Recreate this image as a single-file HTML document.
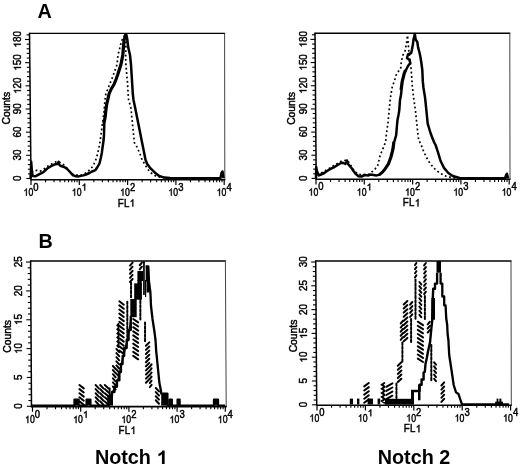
<!DOCTYPE html>
<html><head><meta charset="utf-8"><style>html,body{margin:0;padding:0;background:#fff;}body{width:520px;height:467px;overflow:hidden;position:relative;font-family:"Liberation Sans",sans-serif;}</style></head><body>
<svg width="520" height="467" viewBox="0 0 520 467" style="position:absolute;left:0;top:0;will-change:transform" font-family='"Liberation Sans", sans-serif' fill="#000">
<rect width="520" height="467" fill="#fff"/>
<line x1="29.5" y1="32.8" x2="31" y2="180.3" stroke="#000" stroke-width="1.5" />
<line x1="29" y1="33.4" x2="225.1" y2="33.4" stroke="#000" stroke-width="1.4" />
<line x1="224.6" y1="33.4" x2="224.8" y2="179.7" stroke="#444" stroke-width="1.0" />
<line x1="30.5" y1="179.7" x2="225.3" y2="179.7" stroke="#000" stroke-width="1.6" />
<line x1="26.39" y1="178.5" x2="30.99" y2="178.5" stroke="#000" stroke-width="1.1" />
<line x1="27.94" y1="173.87" x2="30.94" y2="173.87" stroke="#000" stroke-width="1.1" />
<line x1="27.89" y1="169.23" x2="30.89" y2="169.23" stroke="#000" stroke-width="1.1" />
<line x1="27.85" y1="164.6" x2="30.85" y2="164.6" stroke="#000" stroke-width="1.1" />
<line x1="27.8" y1="159.97" x2="30.8" y2="159.97" stroke="#000" stroke-width="1.1" />
<line x1="26.15" y1="155.33" x2="30.75" y2="155.33" stroke="#000" stroke-width="1.1" />
<line x1="27.7" y1="150.7" x2="30.7" y2="150.7" stroke="#000" stroke-width="1.1" />
<line x1="27.66" y1="146.07" x2="30.66" y2="146.07" stroke="#000" stroke-width="1.1" />
<line x1="27.61" y1="141.43" x2="30.61" y2="141.43" stroke="#000" stroke-width="1.1" />
<line x1="27.56" y1="136.8" x2="30.56" y2="136.8" stroke="#000" stroke-width="1.1" />
<line x1="25.91" y1="132.17" x2="30.51" y2="132.17" stroke="#000" stroke-width="1.1" />
<line x1="27.47" y1="127.53" x2="30.47" y2="127.53" stroke="#000" stroke-width="1.1" />
<line x1="27.42" y1="122.9" x2="30.42" y2="122.9" stroke="#000" stroke-width="1.1" />
<line x1="27.37" y1="118.27" x2="30.37" y2="118.27" stroke="#000" stroke-width="1.1" />
<line x1="27.32" y1="113.64" x2="30.32" y2="113.64" stroke="#000" stroke-width="1.1" />
<line x1="25.68" y1="109" x2="30.28" y2="109" stroke="#000" stroke-width="1.1" />
<line x1="27.23" y1="104.37" x2="30.23" y2="104.37" stroke="#000" stroke-width="1.1" />
<line x1="27.18" y1="99.74" x2="30.18" y2="99.74" stroke="#000" stroke-width="1.1" />
<line x1="27.13" y1="95.1" x2="30.13" y2="95.1" stroke="#000" stroke-width="1.1" />
<line x1="27.09" y1="90.47" x2="30.09" y2="90.47" stroke="#000" stroke-width="1.1" />
<line x1="25.44" y1="85.84" x2="30.04" y2="85.84" stroke="#000" stroke-width="1.1" />
<line x1="26.99" y1="81.2" x2="29.99" y2="81.2" stroke="#000" stroke-width="1.1" />
<line x1="26.94" y1="76.57" x2="29.94" y2="76.57" stroke="#000" stroke-width="1.1" />
<line x1="26.9" y1="71.94" x2="29.9" y2="71.94" stroke="#000" stroke-width="1.1" />
<line x1="26.85" y1="67.3" x2="29.85" y2="67.3" stroke="#000" stroke-width="1.1" />
<line x1="25.2" y1="62.67" x2="29.8" y2="62.67" stroke="#000" stroke-width="1.1" />
<line x1="26.75" y1="58.04" x2="29.75" y2="58.04" stroke="#000" stroke-width="1.1" />
<line x1="26.71" y1="53.4" x2="29.71" y2="53.4" stroke="#000" stroke-width="1.1" />
<line x1="26.66" y1="48.77" x2="29.66" y2="48.77" stroke="#000" stroke-width="1.1" />
<line x1="26.61" y1="44.14" x2="29.61" y2="44.14" stroke="#000" stroke-width="1.1" />
<line x1="24.96" y1="39.5" x2="29.56" y2="39.5" stroke="#000" stroke-width="1.1" />
<line x1="26.52" y1="34.87" x2="29.52" y2="34.87" stroke="#000" stroke-width="1.1" />
<line x1="31" y1="179.7" x2="31" y2="184.9" stroke="#000" stroke-width="1.2" />
<line x1="45.54" y1="179.7" x2="45.54" y2="182.3" stroke="#000" stroke-width="1.1" />
<line x1="54.04" y1="179.7" x2="54.04" y2="182.3" stroke="#000" stroke-width="1.1" />
<line x1="60.08" y1="179.7" x2="60.08" y2="182.3" stroke="#000" stroke-width="1.1" />
<line x1="64.76" y1="179.7" x2="64.76" y2="182.3" stroke="#000" stroke-width="1.1" />
<line x1="68.58" y1="179.7" x2="68.58" y2="182.3" stroke="#000" stroke-width="1.1" />
<line x1="71.82" y1="179.7" x2="71.82" y2="182.3" stroke="#000" stroke-width="1.1" />
<line x1="74.62" y1="179.7" x2="74.62" y2="182.3" stroke="#000" stroke-width="1.1" />
<line x1="77.09" y1="179.7" x2="77.09" y2="182.3" stroke="#000" stroke-width="1.1" />
<line x1="79.3" y1="179.7" x2="79.3" y2="184.9" stroke="#000" stroke-width="1.2" />
<line x1="93.84" y1="179.7" x2="93.84" y2="182.3" stroke="#000" stroke-width="1.1" />
<line x1="102.34" y1="179.7" x2="102.34" y2="182.3" stroke="#000" stroke-width="1.1" />
<line x1="108.38" y1="179.7" x2="108.38" y2="182.3" stroke="#000" stroke-width="1.1" />
<line x1="113.06" y1="179.7" x2="113.06" y2="182.3" stroke="#000" stroke-width="1.1" />
<line x1="116.88" y1="179.7" x2="116.88" y2="182.3" stroke="#000" stroke-width="1.1" />
<line x1="120.12" y1="179.7" x2="120.12" y2="182.3" stroke="#000" stroke-width="1.1" />
<line x1="122.92" y1="179.7" x2="122.92" y2="182.3" stroke="#000" stroke-width="1.1" />
<line x1="125.39" y1="179.7" x2="125.39" y2="182.3" stroke="#000" stroke-width="1.1" />
<line x1="127.6" y1="179.7" x2="127.6" y2="184.9" stroke="#000" stroke-width="1.2" />
<line x1="142.14" y1="179.7" x2="142.14" y2="182.3" stroke="#000" stroke-width="1.1" />
<line x1="150.64" y1="179.7" x2="150.64" y2="182.3" stroke="#000" stroke-width="1.1" />
<line x1="156.68" y1="179.7" x2="156.68" y2="182.3" stroke="#000" stroke-width="1.1" />
<line x1="161.36" y1="179.7" x2="161.36" y2="182.3" stroke="#000" stroke-width="1.1" />
<line x1="165.18" y1="179.7" x2="165.18" y2="182.3" stroke="#000" stroke-width="1.1" />
<line x1="168.42" y1="179.7" x2="168.42" y2="182.3" stroke="#000" stroke-width="1.1" />
<line x1="171.22" y1="179.7" x2="171.22" y2="182.3" stroke="#000" stroke-width="1.1" />
<line x1="173.69" y1="179.7" x2="173.69" y2="182.3" stroke="#000" stroke-width="1.1" />
<line x1="175.9" y1="179.7" x2="175.9" y2="184.9" stroke="#000" stroke-width="1.2" />
<line x1="190.44" y1="179.7" x2="190.44" y2="182.3" stroke="#000" stroke-width="1.1" />
<line x1="198.94" y1="179.7" x2="198.94" y2="182.3" stroke="#000" stroke-width="1.1" />
<line x1="204.98" y1="179.7" x2="204.98" y2="182.3" stroke="#000" stroke-width="1.1" />
<line x1="209.66" y1="179.7" x2="209.66" y2="182.3" stroke="#000" stroke-width="1.1" />
<line x1="213.48" y1="179.7" x2="213.48" y2="182.3" stroke="#000" stroke-width="1.1" />
<line x1="216.72" y1="179.7" x2="216.72" y2="182.3" stroke="#000" stroke-width="1.1" />
<line x1="219.52" y1="179.7" x2="219.52" y2="182.3" stroke="#000" stroke-width="1.1" />
<line x1="221.99" y1="179.7" x2="221.99" y2="182.3" stroke="#000" stroke-width="1.1" />
<line x1="224.2" y1="179.7" x2="224.2" y2="184.9" stroke="#000" stroke-width="1.2" />
<line x1="315" y1="32.7" x2="316.2" y2="179.9" stroke="#000" stroke-width="1.5" />
<line x1="314.5" y1="33.3" x2="510.3" y2="33.3" stroke="#000" stroke-width="1.4" />
<line x1="509.8" y1="33.3" x2="510" y2="179.3" stroke="#444" stroke-width="1.0" />
<line x1="315.7" y1="179.3" x2="510.5" y2="179.3" stroke="#000" stroke-width="1.6" />
<line x1="311.59" y1="178.4" x2="316.19" y2="178.4" stroke="#000" stroke-width="1.1" />
<line x1="313.15" y1="173.77" x2="316.15" y2="173.77" stroke="#000" stroke-width="1.1" />
<line x1="313.12" y1="169.13" x2="316.12" y2="169.13" stroke="#000" stroke-width="1.1" />
<line x1="313.08" y1="164.5" x2="316.08" y2="164.5" stroke="#000" stroke-width="1.1" />
<line x1="313.04" y1="159.87" x2="316.04" y2="159.87" stroke="#000" stroke-width="1.1" />
<line x1="311.4" y1="155.23" x2="316" y2="155.23" stroke="#000" stroke-width="1.1" />
<line x1="312.96" y1="150.6" x2="315.96" y2="150.6" stroke="#000" stroke-width="1.1" />
<line x1="312.93" y1="145.97" x2="315.93" y2="145.97" stroke="#000" stroke-width="1.1" />
<line x1="312.89" y1="141.33" x2="315.89" y2="141.33" stroke="#000" stroke-width="1.1" />
<line x1="312.85" y1="136.7" x2="315.85" y2="136.7" stroke="#000" stroke-width="1.1" />
<line x1="311.21" y1="132.07" x2="315.81" y2="132.07" stroke="#000" stroke-width="1.1" />
<line x1="312.77" y1="127.43" x2="315.77" y2="127.43" stroke="#000" stroke-width="1.1" />
<line x1="312.74" y1="122.8" x2="315.74" y2="122.8" stroke="#000" stroke-width="1.1" />
<line x1="312.7" y1="118.17" x2="315.7" y2="118.17" stroke="#000" stroke-width="1.1" />
<line x1="312.66" y1="113.54" x2="315.66" y2="113.54" stroke="#000" stroke-width="1.1" />
<line x1="311.02" y1="108.9" x2="315.62" y2="108.9" stroke="#000" stroke-width="1.1" />
<line x1="312.58" y1="104.27" x2="315.58" y2="104.27" stroke="#000" stroke-width="1.1" />
<line x1="312.55" y1="99.64" x2="315.55" y2="99.64" stroke="#000" stroke-width="1.1" />
<line x1="312.51" y1="95" x2="315.51" y2="95" stroke="#000" stroke-width="1.1" />
<line x1="312.47" y1="90.37" x2="315.47" y2="90.37" stroke="#000" stroke-width="1.1" />
<line x1="310.83" y1="85.74" x2="315.43" y2="85.74" stroke="#000" stroke-width="1.1" />
<line x1="312.39" y1="81.1" x2="315.39" y2="81.1" stroke="#000" stroke-width="1.1" />
<line x1="312.35" y1="76.47" x2="315.35" y2="76.47" stroke="#000" stroke-width="1.1" />
<line x1="312.32" y1="71.84" x2="315.32" y2="71.84" stroke="#000" stroke-width="1.1" />
<line x1="312.28" y1="67.2" x2="315.28" y2="67.2" stroke="#000" stroke-width="1.1" />
<line x1="310.64" y1="62.57" x2="315.24" y2="62.57" stroke="#000" stroke-width="1.1" />
<line x1="312.2" y1="57.94" x2="315.2" y2="57.94" stroke="#000" stroke-width="1.1" />
<line x1="312.16" y1="53.3" x2="315.16" y2="53.3" stroke="#000" stroke-width="1.1" />
<line x1="312.13" y1="48.67" x2="315.13" y2="48.67" stroke="#000" stroke-width="1.1" />
<line x1="312.09" y1="44.04" x2="315.09" y2="44.04" stroke="#000" stroke-width="1.1" />
<line x1="310.45" y1="39.4" x2="315.05" y2="39.4" stroke="#000" stroke-width="1.1" />
<line x1="312.01" y1="34.77" x2="315.01" y2="34.77" stroke="#000" stroke-width="1.1" />
<line x1="316" y1="179.3" x2="316" y2="184.5" stroke="#000" stroke-width="1.2" />
<line x1="330.54" y1="179.3" x2="330.54" y2="181.9" stroke="#000" stroke-width="1.1" />
<line x1="339.04" y1="179.3" x2="339.04" y2="181.9" stroke="#000" stroke-width="1.1" />
<line x1="345.08" y1="179.3" x2="345.08" y2="181.9" stroke="#000" stroke-width="1.1" />
<line x1="349.76" y1="179.3" x2="349.76" y2="181.9" stroke="#000" stroke-width="1.1" />
<line x1="353.58" y1="179.3" x2="353.58" y2="181.9" stroke="#000" stroke-width="1.1" />
<line x1="356.82" y1="179.3" x2="356.82" y2="181.9" stroke="#000" stroke-width="1.1" />
<line x1="359.62" y1="179.3" x2="359.62" y2="181.9" stroke="#000" stroke-width="1.1" />
<line x1="362.09" y1="179.3" x2="362.09" y2="181.9" stroke="#000" stroke-width="1.1" />
<line x1="364.3" y1="179.3" x2="364.3" y2="184.5" stroke="#000" stroke-width="1.2" />
<line x1="378.84" y1="179.3" x2="378.84" y2="181.9" stroke="#000" stroke-width="1.1" />
<line x1="387.34" y1="179.3" x2="387.34" y2="181.9" stroke="#000" stroke-width="1.1" />
<line x1="393.38" y1="179.3" x2="393.38" y2="181.9" stroke="#000" stroke-width="1.1" />
<line x1="398.06" y1="179.3" x2="398.06" y2="181.9" stroke="#000" stroke-width="1.1" />
<line x1="401.88" y1="179.3" x2="401.88" y2="181.9" stroke="#000" stroke-width="1.1" />
<line x1="405.12" y1="179.3" x2="405.12" y2="181.9" stroke="#000" stroke-width="1.1" />
<line x1="407.92" y1="179.3" x2="407.92" y2="181.9" stroke="#000" stroke-width="1.1" />
<line x1="410.39" y1="179.3" x2="410.39" y2="181.9" stroke="#000" stroke-width="1.1" />
<line x1="412.6" y1="179.3" x2="412.6" y2="184.5" stroke="#000" stroke-width="1.2" />
<line x1="427.14" y1="179.3" x2="427.14" y2="181.9" stroke="#000" stroke-width="1.1" />
<line x1="435.64" y1="179.3" x2="435.64" y2="181.9" stroke="#000" stroke-width="1.1" />
<line x1="441.68" y1="179.3" x2="441.68" y2="181.9" stroke="#000" stroke-width="1.1" />
<line x1="446.36" y1="179.3" x2="446.36" y2="181.9" stroke="#000" stroke-width="1.1" />
<line x1="450.18" y1="179.3" x2="450.18" y2="181.9" stroke="#000" stroke-width="1.1" />
<line x1="453.42" y1="179.3" x2="453.42" y2="181.9" stroke="#000" stroke-width="1.1" />
<line x1="456.22" y1="179.3" x2="456.22" y2="181.9" stroke="#000" stroke-width="1.1" />
<line x1="458.69" y1="179.3" x2="458.69" y2="181.9" stroke="#000" stroke-width="1.1" />
<line x1="460.9" y1="179.3" x2="460.9" y2="184.5" stroke="#000" stroke-width="1.2" />
<line x1="475.44" y1="179.3" x2="475.44" y2="181.9" stroke="#000" stroke-width="1.1" />
<line x1="483.94" y1="179.3" x2="483.94" y2="181.9" stroke="#000" stroke-width="1.1" />
<line x1="489.98" y1="179.3" x2="489.98" y2="181.9" stroke="#000" stroke-width="1.1" />
<line x1="494.66" y1="179.3" x2="494.66" y2="181.9" stroke="#000" stroke-width="1.1" />
<line x1="498.48" y1="179.3" x2="498.48" y2="181.9" stroke="#000" stroke-width="1.1" />
<line x1="501.72" y1="179.3" x2="501.72" y2="181.9" stroke="#000" stroke-width="1.1" />
<line x1="504.52" y1="179.3" x2="504.52" y2="181.9" stroke="#000" stroke-width="1.1" />
<line x1="506.99" y1="179.3" x2="506.99" y2="181.9" stroke="#000" stroke-width="1.1" />
<line x1="509.2" y1="179.3" x2="509.2" y2="184.5" stroke="#000" stroke-width="1.2" />
<line x1="30.6" y1="260.4" x2="31.5" y2="407.2" stroke="#000" stroke-width="1.5" />
<line x1="30.1" y1="261" x2="225.9" y2="261" stroke="#000" stroke-width="1.4" />
<line x1="225.4" y1="261" x2="226.2" y2="406.6" stroke="#444" stroke-width="1.0" />
<line x1="31" y1="406.6" x2="226.7" y2="406.6" stroke="#000" stroke-width="1.6" />
<line x1="26.9" y1="406.3" x2="31.5" y2="406.3" stroke="#000" stroke-width="1.1" />
<line x1="28.46" y1="400.53" x2="31.46" y2="400.53" stroke="#000" stroke-width="1.1" />
<line x1="28.43" y1="394.76" x2="31.43" y2="394.76" stroke="#000" stroke-width="1.1" />
<line x1="28.39" y1="388.99" x2="31.39" y2="388.99" stroke="#000" stroke-width="1.1" />
<line x1="28.36" y1="383.22" x2="31.36" y2="383.22" stroke="#000" stroke-width="1.1" />
<line x1="26.72" y1="377.45" x2="31.32" y2="377.45" stroke="#000" stroke-width="1.1" />
<line x1="28.28" y1="371.68" x2="31.28" y2="371.68" stroke="#000" stroke-width="1.1" />
<line x1="28.25" y1="365.91" x2="31.25" y2="365.91" stroke="#000" stroke-width="1.1" />
<line x1="28.21" y1="360.14" x2="31.21" y2="360.14" stroke="#000" stroke-width="1.1" />
<line x1="28.18" y1="354.37" x2="31.18" y2="354.37" stroke="#000" stroke-width="1.1" />
<line x1="26.54" y1="348.6" x2="31.14" y2="348.6" stroke="#000" stroke-width="1.1" />
<line x1="28.11" y1="342.83" x2="31.11" y2="342.83" stroke="#000" stroke-width="1.1" />
<line x1="28.07" y1="337.06" x2="31.07" y2="337.06" stroke="#000" stroke-width="1.1" />
<line x1="28.03" y1="331.29" x2="31.03" y2="331.29" stroke="#000" stroke-width="1.1" />
<line x1="28" y1="325.52" x2="31" y2="325.52" stroke="#000" stroke-width="1.1" />
<line x1="26.36" y1="319.75" x2="30.96" y2="319.75" stroke="#000" stroke-width="1.1" />
<line x1="27.93" y1="313.98" x2="30.93" y2="313.98" stroke="#000" stroke-width="1.1" />
<line x1="27.89" y1="308.21" x2="30.89" y2="308.21" stroke="#000" stroke-width="1.1" />
<line x1="27.86" y1="302.44" x2="30.86" y2="302.44" stroke="#000" stroke-width="1.1" />
<line x1="27.82" y1="296.67" x2="30.82" y2="296.67" stroke="#000" stroke-width="1.1" />
<line x1="26.18" y1="290.9" x2="30.78" y2="290.9" stroke="#000" stroke-width="1.1" />
<line x1="27.75" y1="285.13" x2="30.75" y2="285.13" stroke="#000" stroke-width="1.1" />
<line x1="27.71" y1="279.36" x2="30.71" y2="279.36" stroke="#000" stroke-width="1.1" />
<line x1="27.68" y1="273.59" x2="30.68" y2="273.59" stroke="#000" stroke-width="1.1" />
<line x1="27.64" y1="267.82" x2="30.64" y2="267.82" stroke="#000" stroke-width="1.1" />
<line x1="26.01" y1="262.05" x2="30.61" y2="262.05" stroke="#000" stroke-width="1.1" />
<line x1="32.5" y1="406.6" x2="32.5" y2="411.8" stroke="#000" stroke-width="1.2" />
<line x1="47.01" y1="406.6" x2="47.01" y2="409.2" stroke="#000" stroke-width="1.1" />
<line x1="55.5" y1="406.6" x2="55.5" y2="409.2" stroke="#000" stroke-width="1.1" />
<line x1="61.52" y1="406.6" x2="61.52" y2="409.2" stroke="#000" stroke-width="1.1" />
<line x1="66.19" y1="406.6" x2="66.19" y2="409.2" stroke="#000" stroke-width="1.1" />
<line x1="70.01" y1="406.6" x2="70.01" y2="409.2" stroke="#000" stroke-width="1.1" />
<line x1="73.23" y1="406.6" x2="73.23" y2="409.2" stroke="#000" stroke-width="1.1" />
<line x1="76.03" y1="406.6" x2="76.03" y2="409.2" stroke="#000" stroke-width="1.1" />
<line x1="78.49" y1="406.6" x2="78.49" y2="409.2" stroke="#000" stroke-width="1.1" />
<line x1="80.7" y1="406.6" x2="80.7" y2="411.8" stroke="#000" stroke-width="1.2" />
<line x1="95.21" y1="406.6" x2="95.21" y2="409.2" stroke="#000" stroke-width="1.1" />
<line x1="103.7" y1="406.6" x2="103.7" y2="409.2" stroke="#000" stroke-width="1.1" />
<line x1="109.72" y1="406.6" x2="109.72" y2="409.2" stroke="#000" stroke-width="1.1" />
<line x1="114.39" y1="406.6" x2="114.39" y2="409.2" stroke="#000" stroke-width="1.1" />
<line x1="118.21" y1="406.6" x2="118.21" y2="409.2" stroke="#000" stroke-width="1.1" />
<line x1="121.43" y1="406.6" x2="121.43" y2="409.2" stroke="#000" stroke-width="1.1" />
<line x1="124.23" y1="406.6" x2="124.23" y2="409.2" stroke="#000" stroke-width="1.1" />
<line x1="126.69" y1="406.6" x2="126.69" y2="409.2" stroke="#000" stroke-width="1.1" />
<line x1="128.9" y1="406.6" x2="128.9" y2="411.8" stroke="#000" stroke-width="1.2" />
<line x1="143.41" y1="406.6" x2="143.41" y2="409.2" stroke="#000" stroke-width="1.1" />
<line x1="151.9" y1="406.6" x2="151.9" y2="409.2" stroke="#000" stroke-width="1.1" />
<line x1="157.92" y1="406.6" x2="157.92" y2="409.2" stroke="#000" stroke-width="1.1" />
<line x1="162.59" y1="406.6" x2="162.59" y2="409.2" stroke="#000" stroke-width="1.1" />
<line x1="166.41" y1="406.6" x2="166.41" y2="409.2" stroke="#000" stroke-width="1.1" />
<line x1="169.63" y1="406.6" x2="169.63" y2="409.2" stroke="#000" stroke-width="1.1" />
<line x1="172.43" y1="406.6" x2="172.43" y2="409.2" stroke="#000" stroke-width="1.1" />
<line x1="174.89" y1="406.6" x2="174.89" y2="409.2" stroke="#000" stroke-width="1.1" />
<line x1="177.1" y1="406.6" x2="177.1" y2="411.8" stroke="#000" stroke-width="1.2" />
<line x1="191.61" y1="406.6" x2="191.61" y2="409.2" stroke="#000" stroke-width="1.1" />
<line x1="200.1" y1="406.6" x2="200.1" y2="409.2" stroke="#000" stroke-width="1.1" />
<line x1="206.12" y1="406.6" x2="206.12" y2="409.2" stroke="#000" stroke-width="1.1" />
<line x1="210.79" y1="406.6" x2="210.79" y2="409.2" stroke="#000" stroke-width="1.1" />
<line x1="214.61" y1="406.6" x2="214.61" y2="409.2" stroke="#000" stroke-width="1.1" />
<line x1="217.83" y1="406.6" x2="217.83" y2="409.2" stroke="#000" stroke-width="1.1" />
<line x1="220.63" y1="406.6" x2="220.63" y2="409.2" stroke="#000" stroke-width="1.1" />
<line x1="223.09" y1="406.6" x2="223.09" y2="409.2" stroke="#000" stroke-width="1.1" />
<line x1="225.3" y1="406.6" x2="225.3" y2="411.8" stroke="#000" stroke-width="1.2" />
<line x1="315.7" y1="260.4" x2="316.7" y2="405.8" stroke="#000" stroke-width="1.5" />
<line x1="315.2" y1="261" x2="511.5" y2="261" stroke="#000" stroke-width="1.4" />
<line x1="511" y1="261" x2="511.3" y2="405.2" stroke="#444" stroke-width="1.0" />
<line x1="316.2" y1="405.2" x2="511.8" y2="405.2" stroke="#000" stroke-width="1.6" />
<line x1="312.1" y1="404.8" x2="316.7" y2="404.8" stroke="#000" stroke-width="1.1" />
<line x1="313.66" y1="400.04" x2="316.66" y2="400.04" stroke="#000" stroke-width="1.1" />
<line x1="313.63" y1="395.28" x2="316.63" y2="395.28" stroke="#000" stroke-width="1.1" />
<line x1="313.6" y1="390.52" x2="316.6" y2="390.52" stroke="#000" stroke-width="1.1" />
<line x1="313.57" y1="385.76" x2="316.57" y2="385.76" stroke="#000" stroke-width="1.1" />
<line x1="311.93" y1="381" x2="316.53" y2="381" stroke="#000" stroke-width="1.1" />
<line x1="313.5" y1="376.24" x2="316.5" y2="376.24" stroke="#000" stroke-width="1.1" />
<line x1="313.47" y1="371.48" x2="316.47" y2="371.48" stroke="#000" stroke-width="1.1" />
<line x1="313.43" y1="366.72" x2="316.43" y2="366.72" stroke="#000" stroke-width="1.1" />
<line x1="313.4" y1="361.96" x2="316.4" y2="361.96" stroke="#000" stroke-width="1.1" />
<line x1="311.77" y1="357.2" x2="316.37" y2="357.2" stroke="#000" stroke-width="1.1" />
<line x1="313.33" y1="352.44" x2="316.33" y2="352.44" stroke="#000" stroke-width="1.1" />
<line x1="313.3" y1="347.68" x2="316.3" y2="347.68" stroke="#000" stroke-width="1.1" />
<line x1="313.27" y1="342.92" x2="316.27" y2="342.92" stroke="#000" stroke-width="1.1" />
<line x1="313.24" y1="338.16" x2="316.24" y2="338.16" stroke="#000" stroke-width="1.1" />
<line x1="311.6" y1="333.4" x2="316.2" y2="333.4" stroke="#000" stroke-width="1.1" />
<line x1="313.17" y1="328.64" x2="316.17" y2="328.64" stroke="#000" stroke-width="1.1" />
<line x1="313.14" y1="323.88" x2="316.14" y2="323.88" stroke="#000" stroke-width="1.1" />
<line x1="313.1" y1="319.12" x2="316.1" y2="319.12" stroke="#000" stroke-width="1.1" />
<line x1="313.07" y1="314.36" x2="316.07" y2="314.36" stroke="#000" stroke-width="1.1" />
<line x1="311.44" y1="309.6" x2="316.04" y2="309.6" stroke="#000" stroke-width="1.1" />
<line x1="313" y1="304.84" x2="316" y2="304.84" stroke="#000" stroke-width="1.1" />
<line x1="312.97" y1="300.08" x2="315.97" y2="300.08" stroke="#000" stroke-width="1.1" />
<line x1="312.94" y1="295.32" x2="315.94" y2="295.32" stroke="#000" stroke-width="1.1" />
<line x1="312.9" y1="290.56" x2="315.9" y2="290.56" stroke="#000" stroke-width="1.1" />
<line x1="311.27" y1="285.8" x2="315.87" y2="285.8" stroke="#000" stroke-width="1.1" />
<line x1="312.84" y1="281.04" x2="315.84" y2="281.04" stroke="#000" stroke-width="1.1" />
<line x1="312.81" y1="276.28" x2="315.81" y2="276.28" stroke="#000" stroke-width="1.1" />
<line x1="312.77" y1="271.52" x2="315.77" y2="271.52" stroke="#000" stroke-width="1.1" />
<line x1="312.74" y1="266.76" x2="315.74" y2="266.76" stroke="#000" stroke-width="1.1" />
<line x1="311.11" y1="262" x2="315.71" y2="262" stroke="#000" stroke-width="1.1" />
<line x1="317" y1="405.2" x2="317" y2="410.4" stroke="#000" stroke-width="1.2" />
<line x1="331.57" y1="405.2" x2="331.57" y2="407.8" stroke="#000" stroke-width="1.1" />
<line x1="340.09" y1="405.2" x2="340.09" y2="407.8" stroke="#000" stroke-width="1.1" />
<line x1="346.14" y1="405.2" x2="346.14" y2="407.8" stroke="#000" stroke-width="1.1" />
<line x1="350.83" y1="405.2" x2="350.83" y2="407.8" stroke="#000" stroke-width="1.1" />
<line x1="354.66" y1="405.2" x2="354.66" y2="407.8" stroke="#000" stroke-width="1.1" />
<line x1="357.9" y1="405.2" x2="357.9" y2="407.8" stroke="#000" stroke-width="1.1" />
<line x1="360.71" y1="405.2" x2="360.71" y2="407.8" stroke="#000" stroke-width="1.1" />
<line x1="363.19" y1="405.2" x2="363.19" y2="407.8" stroke="#000" stroke-width="1.1" />
<line x1="365.4" y1="405.2" x2="365.4" y2="410.4" stroke="#000" stroke-width="1.2" />
<line x1="379.97" y1="405.2" x2="379.97" y2="407.8" stroke="#000" stroke-width="1.1" />
<line x1="388.49" y1="405.2" x2="388.49" y2="407.8" stroke="#000" stroke-width="1.1" />
<line x1="394.54" y1="405.2" x2="394.54" y2="407.8" stroke="#000" stroke-width="1.1" />
<line x1="399.23" y1="405.2" x2="399.23" y2="407.8" stroke="#000" stroke-width="1.1" />
<line x1="403.06" y1="405.2" x2="403.06" y2="407.8" stroke="#000" stroke-width="1.1" />
<line x1="406.3" y1="405.2" x2="406.3" y2="407.8" stroke="#000" stroke-width="1.1" />
<line x1="409.11" y1="405.2" x2="409.11" y2="407.8" stroke="#000" stroke-width="1.1" />
<line x1="411.59" y1="405.2" x2="411.59" y2="407.8" stroke="#000" stroke-width="1.1" />
<line x1="413.8" y1="405.2" x2="413.8" y2="410.4" stroke="#000" stroke-width="1.2" />
<line x1="428.37" y1="405.2" x2="428.37" y2="407.8" stroke="#000" stroke-width="1.1" />
<line x1="436.89" y1="405.2" x2="436.89" y2="407.8" stroke="#000" stroke-width="1.1" />
<line x1="442.94" y1="405.2" x2="442.94" y2="407.8" stroke="#000" stroke-width="1.1" />
<line x1="447.63" y1="405.2" x2="447.63" y2="407.8" stroke="#000" stroke-width="1.1" />
<line x1="451.46" y1="405.2" x2="451.46" y2="407.8" stroke="#000" stroke-width="1.1" />
<line x1="454.7" y1="405.2" x2="454.7" y2="407.8" stroke="#000" stroke-width="1.1" />
<line x1="457.51" y1="405.2" x2="457.51" y2="407.8" stroke="#000" stroke-width="1.1" />
<line x1="459.99" y1="405.2" x2="459.99" y2="407.8" stroke="#000" stroke-width="1.1" />
<line x1="462.2" y1="405.2" x2="462.2" y2="410.4" stroke="#000" stroke-width="1.2" />
<line x1="476.77" y1="405.2" x2="476.77" y2="407.8" stroke="#000" stroke-width="1.1" />
<line x1="485.29" y1="405.2" x2="485.29" y2="407.8" stroke="#000" stroke-width="1.1" />
<line x1="491.34" y1="405.2" x2="491.34" y2="407.8" stroke="#000" stroke-width="1.1" />
<line x1="496.03" y1="405.2" x2="496.03" y2="407.8" stroke="#000" stroke-width="1.1" />
<line x1="499.86" y1="405.2" x2="499.86" y2="407.8" stroke="#000" stroke-width="1.1" />
<line x1="503.1" y1="405.2" x2="503.1" y2="407.8" stroke="#000" stroke-width="1.1" />
<line x1="505.91" y1="405.2" x2="505.91" y2="407.8" stroke="#000" stroke-width="1.1" />
<line x1="508.39" y1="405.2" x2="508.39" y2="407.8" stroke="#000" stroke-width="1.1" />
<line x1="510.6" y1="405.2" x2="510.6" y2="410.4" stroke="#000" stroke-width="1.2" />
<g transform="translate(20.9,178.3) rotate(-90) scale(0.95,1)"><text x="-2.89" y="0" font-size="10.4" font-weight="normal" style="font-kerning:none" stroke="#000" stroke-width="0.45">0</text></g>
<g transform="translate(20.9,155.13) rotate(-90) scale(0.95,1)"><text x="-5.78" y="0" font-size="10.4" font-weight="normal" style="font-kerning:none" stroke="#000" stroke-width="0.45">30</text></g>
<g transform="translate(20.9,131.97) rotate(-90) scale(0.95,1)"><text x="-5.78" y="0" font-size="10.4" font-weight="normal" style="font-kerning:none" stroke="#000" stroke-width="0.45">60</text></g>
<g transform="translate(20.9,108.8) rotate(-90) scale(0.95,1)"><text x="-5.78" y="0" font-size="10.4" font-weight="normal" style="font-kerning:none" stroke="#000" stroke-width="0.45">90</text></g>
<g transform="translate(20.9,85.64) rotate(-90) scale(0.95,1)"><text x="-8.68" y="0" font-size="10.4" font-weight="normal" style="font-kerning:none" stroke="#000" stroke-width="0.45"> 20</text><path d="M-4.8,0L-5.72,0L-5.72,-5.59C-5.93,-5.39 -6.22,-5.2 -6.58,-5.01C-6.94,-4.81 -7.26,-4.67 -7.55,-4.57L-7.55,-5.39C-7.04,-5.62 -6.59,-5.89 -6.2,-6.21C-5.82,-6.52 -5.54,-6.83 -5.38,-7.16L-4.8,-7.16Z" stroke="#000" stroke-width="0.45"/></g>
<g transform="translate(20.9,62.47) rotate(-90) scale(0.95,1)"><text x="-8.68" y="0" font-size="10.4" font-weight="normal" style="font-kerning:none" stroke="#000" stroke-width="0.45"> 50</text><path d="M-4.8,0L-5.72,0L-5.72,-5.59C-5.93,-5.39 -6.22,-5.2 -6.58,-5.01C-6.94,-4.81 -7.26,-4.67 -7.55,-4.57L-7.55,-5.39C-7.04,-5.62 -6.59,-5.89 -6.2,-6.21C-5.82,-6.52 -5.54,-6.83 -5.38,-7.16L-4.8,-7.16Z" stroke="#000" stroke-width="0.45"/></g>
<g transform="translate(20.9,39.3) rotate(-90) scale(0.95,1)"><text x="-8.68" y="0" font-size="10.4" font-weight="normal" style="font-kerning:none" stroke="#000" stroke-width="0.45"> 80</text><path d="M-4.8,0L-5.72,0L-5.72,-5.59C-5.93,-5.39 -6.22,-5.2 -6.58,-5.01C-6.94,-4.81 -7.26,-4.67 -7.55,-4.57L-7.55,-5.39C-7.04,-5.62 -6.59,-5.89 -6.2,-6.21C-5.82,-6.52 -5.54,-6.83 -5.38,-7.16L-4.8,-7.16Z" stroke="#000" stroke-width="0.45"/></g>
<g transform="translate(9.6,108.2) rotate(-90) scale(1.02,1)"><text x="-16" y="0" font-size="10.1" font-weight="normal" style="font-kerning:none" stroke="#000" stroke-width="0.45">Counts</text></g>
<g transform="translate(33.2,195.8) scale(0.82,1)"><text x="-11.79" y="0" font-size="10.6" font-weight="normal" style="font-kerning:none" stroke="#000" stroke-width="0.45"> 0</text><path d="M-7.84,0L-8.77,0L-8.77,-5.69C-9,-5.5 -9.29,-5.3 -9.66,-5.1C-10.02,-4.91 -10.35,-4.76 -10.64,-4.66L-10.64,-5.5C-10.12,-5.72 -9.66,-6 -9.27,-6.32C-8.88,-6.65 -8.6,-6.96 -8.43,-7.29L-7.84,-7.29Z" stroke="#000" stroke-width="0.45"/></g>
<g transform="translate(33.3,190.5) scale(0.95,1)"><text x="0" y="0" font-size="10.0" font-weight="normal" style="font-kerning:none" stroke="#000" stroke-width="0.45">0</text></g>
<g transform="translate(81.5,195.8) scale(0.82,1)"><text x="-11.79" y="0" font-size="10.6" font-weight="normal" style="font-kerning:none" stroke="#000" stroke-width="0.45"> 0</text><path d="M-7.84,0L-8.77,0L-8.77,-5.69C-9,-5.5 -9.29,-5.3 -9.66,-5.1C-10.02,-4.91 -10.35,-4.76 -10.64,-4.66L-10.64,-5.5C-10.12,-5.72 -9.66,-6 -9.27,-6.32C-8.88,-6.65 -8.6,-6.96 -8.43,-7.29L-7.84,-7.29Z" stroke="#000" stroke-width="0.45"/></g>
<g transform="translate(81.6,190.5) scale(0.95,1)"><path d="M3.73,0L2.85,0L2.85,-5.37C2.64,-5.19 2.36,-5 2.01,-4.81C1.67,-4.63 1.36,-4.49 1.08,-4.39L1.08,-5.19C1.58,-5.4 2.01,-5.66 2.38,-5.97C2.75,-6.27 3.01,-6.57 3.17,-6.88L3.73,-6.88Z" stroke="#000" stroke-width="0.45"/></g>
<g transform="translate(129.8,195.8) scale(0.82,1)"><text x="-11.79" y="0" font-size="10.6" font-weight="normal" style="font-kerning:none" stroke="#000" stroke-width="0.45"> 0</text><path d="M-7.84,0L-8.77,0L-8.77,-5.69C-9,-5.5 -9.29,-5.3 -9.66,-5.1C-10.02,-4.91 -10.35,-4.76 -10.64,-4.66L-10.64,-5.5C-10.12,-5.72 -9.66,-6 -9.27,-6.32C-8.88,-6.65 -8.6,-6.96 -8.43,-7.29L-7.84,-7.29Z" stroke="#000" stroke-width="0.45"/></g>
<g transform="translate(129.9,190.5) scale(0.95,1)"><text x="0" y="0" font-size="10.0" font-weight="normal" style="font-kerning:none" stroke="#000" stroke-width="0.45">2</text></g>
<g transform="translate(178.1,195.8) scale(0.82,1)"><text x="-11.79" y="0" font-size="10.6" font-weight="normal" style="font-kerning:none" stroke="#000" stroke-width="0.45"> 0</text><path d="M-7.84,0L-8.77,0L-8.77,-5.69C-9,-5.5 -9.29,-5.3 -9.66,-5.1C-10.02,-4.91 -10.35,-4.76 -10.64,-4.66L-10.64,-5.5C-10.12,-5.72 -9.66,-6 -9.27,-6.32C-8.88,-6.65 -8.6,-6.96 -8.43,-7.29L-7.84,-7.29Z" stroke="#000" stroke-width="0.45"/></g>
<g transform="translate(178.2,190.5) scale(0.95,1)"><text x="0" y="0" font-size="10.0" font-weight="normal" style="font-kerning:none" stroke="#000" stroke-width="0.45">3</text></g>
<g transform="translate(226.4,195.8) scale(0.82,1)"><text x="-11.79" y="0" font-size="10.6" font-weight="normal" style="font-kerning:none" stroke="#000" stroke-width="0.45"> 0</text><path d="M-7.84,0L-8.77,0L-8.77,-5.69C-9,-5.5 -9.29,-5.3 -9.66,-5.1C-10.02,-4.91 -10.35,-4.76 -10.64,-4.66L-10.64,-5.5C-10.12,-5.72 -9.66,-6 -9.27,-6.32C-8.88,-6.65 -8.6,-6.96 -8.43,-7.29L-7.84,-7.29Z" stroke="#000" stroke-width="0.45"/></g>
<g transform="translate(226.5,190.5) scale(0.95,1)"><text x="0" y="0" font-size="10.0" font-weight="normal" style="font-kerning:none" stroke="#000" stroke-width="0.45">4</text></g>
<g transform="translate(126.5,206.6) scale(0.9,1)"><text x="-9.83" y="0" font-size="10.8" font-weight="normal" style="font-kerning:none" letter-spacing="0.35" stroke="#000" stroke-width="0.45">FL </text><path d="M7.5,0L6.55,0L6.55,-5.8C6.32,-5.6 6.02,-5.4 5.65,-5.2C5.28,-5 4.94,-4.85 4.64,-4.75L4.64,-5.6C5.18,-5.83 5.64,-6.12 6.04,-6.44C6.44,-6.77 6.73,-7.09 6.9,-7.43L7.5,-7.43Z" stroke="#000" stroke-width="0.45"/></g>
<g transform="translate(306.5,178.2) rotate(-90) scale(0.95,1)"><text x="-2.89" y="0" font-size="10.4" font-weight="normal" style="font-kerning:none" stroke="#000" stroke-width="0.45">0</text></g>
<g transform="translate(306.5,155.03) rotate(-90) scale(0.95,1)"><text x="-5.78" y="0" font-size="10.4" font-weight="normal" style="font-kerning:none" stroke="#000" stroke-width="0.45">30</text></g>
<g transform="translate(306.5,131.87) rotate(-90) scale(0.95,1)"><text x="-5.78" y="0" font-size="10.4" font-weight="normal" style="font-kerning:none" stroke="#000" stroke-width="0.45">60</text></g>
<g transform="translate(306.5,108.7) rotate(-90) scale(0.95,1)"><text x="-5.78" y="0" font-size="10.4" font-weight="normal" style="font-kerning:none" stroke="#000" stroke-width="0.45">90</text></g>
<g transform="translate(306.5,85.54) rotate(-90) scale(0.95,1)"><text x="-8.68" y="0" font-size="10.4" font-weight="normal" style="font-kerning:none" stroke="#000" stroke-width="0.45"> 20</text><path d="M-4.8,0L-5.72,0L-5.72,-5.59C-5.93,-5.39 -6.22,-5.2 -6.58,-5.01C-6.94,-4.81 -7.26,-4.67 -7.55,-4.57L-7.55,-5.39C-7.04,-5.62 -6.59,-5.89 -6.2,-6.21C-5.82,-6.52 -5.54,-6.83 -5.38,-7.16L-4.8,-7.16Z" stroke="#000" stroke-width="0.45"/></g>
<g transform="translate(306.5,62.37) rotate(-90) scale(0.95,1)"><text x="-8.68" y="0" font-size="10.4" font-weight="normal" style="font-kerning:none" stroke="#000" stroke-width="0.45"> 50</text><path d="M-4.8,0L-5.72,0L-5.72,-5.59C-5.93,-5.39 -6.22,-5.2 -6.58,-5.01C-6.94,-4.81 -7.26,-4.67 -7.55,-4.57L-7.55,-5.39C-7.04,-5.62 -6.59,-5.89 -6.2,-6.21C-5.82,-6.52 -5.54,-6.83 -5.38,-7.16L-4.8,-7.16Z" stroke="#000" stroke-width="0.45"/></g>
<g transform="translate(306.5,39.2) rotate(-90) scale(0.95,1)"><text x="-8.68" y="0" font-size="10.4" font-weight="normal" style="font-kerning:none" stroke="#000" stroke-width="0.45"> 80</text><path d="M-4.8,0L-5.72,0L-5.72,-5.59C-5.93,-5.39 -6.22,-5.2 -6.58,-5.01C-6.94,-4.81 -7.26,-4.67 -7.55,-4.57L-7.55,-5.39C-7.04,-5.62 -6.59,-5.89 -6.2,-6.21C-5.82,-6.52 -5.54,-6.83 -5.38,-7.16L-4.8,-7.16Z" stroke="#000" stroke-width="0.45"/></g>
<g transform="translate(295,108.5) rotate(-90) scale(1.02,1)"><text x="-16" y="0" font-size="10.1" font-weight="normal" style="font-kerning:none" stroke="#000" stroke-width="0.45">Counts</text></g>
<g transform="translate(318.2,195.6) scale(0.82,1)"><text x="-11.79" y="0" font-size="10.6" font-weight="normal" style="font-kerning:none" stroke="#000" stroke-width="0.45"> 0</text><path d="M-7.84,0L-8.77,0L-8.77,-5.69C-9,-5.5 -9.29,-5.3 -9.66,-5.1C-10.02,-4.91 -10.35,-4.76 -10.64,-4.66L-10.64,-5.5C-10.12,-5.72 -9.66,-6 -9.27,-6.32C-8.88,-6.65 -8.6,-6.96 -8.43,-7.29L-7.84,-7.29Z" stroke="#000" stroke-width="0.45"/></g>
<g transform="translate(318.3,190.3) scale(0.95,1)"><text x="0" y="0" font-size="10.0" font-weight="normal" style="font-kerning:none" stroke="#000" stroke-width="0.45">0</text></g>
<g transform="translate(366.5,195.6) scale(0.82,1)"><text x="-11.79" y="0" font-size="10.6" font-weight="normal" style="font-kerning:none" stroke="#000" stroke-width="0.45"> 0</text><path d="M-7.84,0L-8.77,0L-8.77,-5.69C-9,-5.5 -9.29,-5.3 -9.66,-5.1C-10.02,-4.91 -10.35,-4.76 -10.64,-4.66L-10.64,-5.5C-10.12,-5.72 -9.66,-6 -9.27,-6.32C-8.88,-6.65 -8.6,-6.96 -8.43,-7.29L-7.84,-7.29Z" stroke="#000" stroke-width="0.45"/></g>
<g transform="translate(366.6,190.3) scale(0.95,1)"><path d="M3.73,0L2.85,0L2.85,-5.37C2.64,-5.19 2.36,-5 2.01,-4.81C1.67,-4.63 1.36,-4.49 1.08,-4.39L1.08,-5.19C1.58,-5.4 2.01,-5.66 2.38,-5.97C2.75,-6.27 3.01,-6.57 3.17,-6.88L3.73,-6.88Z" stroke="#000" stroke-width="0.45"/></g>
<g transform="translate(414.8,195.6) scale(0.82,1)"><text x="-11.79" y="0" font-size="10.6" font-weight="normal" style="font-kerning:none" stroke="#000" stroke-width="0.45"> 0</text><path d="M-7.84,0L-8.77,0L-8.77,-5.69C-9,-5.5 -9.29,-5.3 -9.66,-5.1C-10.02,-4.91 -10.35,-4.76 -10.64,-4.66L-10.64,-5.5C-10.12,-5.72 -9.66,-6 -9.27,-6.32C-8.88,-6.65 -8.6,-6.96 -8.43,-7.29L-7.84,-7.29Z" stroke="#000" stroke-width="0.45"/></g>
<g transform="translate(414.9,190.3) scale(0.95,1)"><text x="0" y="0" font-size="10.0" font-weight="normal" style="font-kerning:none" stroke="#000" stroke-width="0.45">2</text></g>
<g transform="translate(463.1,195.6) scale(0.82,1)"><text x="-11.79" y="0" font-size="10.6" font-weight="normal" style="font-kerning:none" stroke="#000" stroke-width="0.45"> 0</text><path d="M-7.84,0L-8.77,0L-8.77,-5.69C-9,-5.5 -9.29,-5.3 -9.66,-5.1C-10.02,-4.91 -10.35,-4.76 -10.64,-4.66L-10.64,-5.5C-10.12,-5.72 -9.66,-6 -9.27,-6.32C-8.88,-6.65 -8.6,-6.96 -8.43,-7.29L-7.84,-7.29Z" stroke="#000" stroke-width="0.45"/></g>
<g transform="translate(463.2,190.3) scale(0.95,1)"><text x="0" y="0" font-size="10.0" font-weight="normal" style="font-kerning:none" stroke="#000" stroke-width="0.45">3</text></g>
<g transform="translate(511.4,195.6) scale(0.82,1)"><text x="-11.79" y="0" font-size="10.6" font-weight="normal" style="font-kerning:none" stroke="#000" stroke-width="0.45"> 0</text><path d="M-7.84,0L-8.77,0L-8.77,-5.69C-9,-5.5 -9.29,-5.3 -9.66,-5.1C-10.02,-4.91 -10.35,-4.76 -10.64,-4.66L-10.64,-5.5C-10.12,-5.72 -9.66,-6 -9.27,-6.32C-8.88,-6.65 -8.6,-6.96 -8.43,-7.29L-7.84,-7.29Z" stroke="#000" stroke-width="0.45"/></g>
<g transform="translate(511.5,190.3) scale(0.95,1)"><text x="0" y="0" font-size="10.0" font-weight="normal" style="font-kerning:none" stroke="#000" stroke-width="0.45">4</text></g>
<g transform="translate(411.7,206.4) scale(0.9,1)"><text x="-9.83" y="0" font-size="10.8" font-weight="normal" style="font-kerning:none" letter-spacing="0.35" stroke="#000" stroke-width="0.45">FL </text><path d="M7.5,0L6.55,0L6.55,-5.8C6.32,-5.6 6.02,-5.4 5.65,-5.2C5.28,-5 4.94,-4.85 4.64,-4.75L4.64,-5.6C5.18,-5.83 5.64,-6.12 6.04,-6.44C6.44,-6.77 6.73,-7.09 6.9,-7.43L7.5,-7.43Z" stroke="#000" stroke-width="0.45"/></g>
<g transform="translate(21.8,406.1) rotate(-90) scale(0.95,1)"><text x="-2.89" y="0" font-size="10.4" font-weight="normal" style="font-kerning:none" stroke="#000" stroke-width="0.45">0</text></g>
<g transform="translate(21.8,377.25) rotate(-90) scale(0.95,1)"><text x="-2.89" y="0" font-size="10.4" font-weight="normal" style="font-kerning:none" stroke="#000" stroke-width="0.45">5</text></g>
<g transform="translate(21.8,348.4) rotate(-90) scale(0.95,1)"><text x="-5.78" y="0" font-size="10.4" font-weight="normal" style="font-kerning:none" stroke="#000" stroke-width="0.45"> 0</text><path d="M-1.91,0L-2.82,0L-2.82,-5.59C-3.04,-5.39 -3.33,-5.2 -3.69,-5.01C-4.05,-4.81 -4.37,-4.67 -4.66,-4.57L-4.66,-5.39C-4.14,-5.62 -3.7,-5.89 -3.31,-6.21C-2.93,-6.52 -2.65,-6.83 -2.49,-7.16L-1.91,-7.16Z" stroke="#000" stroke-width="0.45"/></g>
<g transform="translate(21.8,319.55) rotate(-90) scale(0.95,1)"><text x="-5.78" y="0" font-size="10.4" font-weight="normal" style="font-kerning:none" stroke="#000" stroke-width="0.45"> 5</text><path d="M-1.91,0L-2.82,0L-2.82,-5.59C-3.04,-5.39 -3.33,-5.2 -3.69,-5.01C-4.05,-4.81 -4.37,-4.67 -4.66,-4.57L-4.66,-5.39C-4.14,-5.62 -3.7,-5.89 -3.31,-6.21C-2.93,-6.52 -2.65,-6.83 -2.49,-7.16L-1.91,-7.16Z" stroke="#000" stroke-width="0.45"/></g>
<g transform="translate(21.8,290.7) rotate(-90) scale(0.95,1)"><text x="-5.78" y="0" font-size="10.4" font-weight="normal" style="font-kerning:none" stroke="#000" stroke-width="0.45">20</text></g>
<g transform="translate(21.8,261.85) rotate(-90) scale(0.95,1)"><text x="-5.78" y="0" font-size="10.4" font-weight="normal" style="font-kerning:none" stroke="#000" stroke-width="0.45">25</text></g>
<g transform="translate(11.2,336.4) rotate(-90) scale(1.02,1)"><text x="-16" y="0" font-size="10.1" font-weight="normal" style="font-kerning:none" stroke="#000" stroke-width="0.45">Counts</text></g>
<g transform="translate(34.7,423.1) scale(0.82,1)"><text x="-11.79" y="0" font-size="10.6" font-weight="normal" style="font-kerning:none" stroke="#000" stroke-width="0.45"> 0</text><path d="M-7.84,0L-8.77,0L-8.77,-5.69C-9,-5.5 -9.29,-5.3 -9.66,-5.1C-10.02,-4.91 -10.35,-4.76 -10.64,-4.66L-10.64,-5.5C-10.12,-5.72 -9.66,-6 -9.27,-6.32C-8.88,-6.65 -8.6,-6.96 -8.43,-7.29L-7.84,-7.29Z" stroke="#000" stroke-width="0.45"/></g>
<g transform="translate(34.8,417.8) scale(0.95,1)"><text x="0" y="0" font-size="10.0" font-weight="normal" style="font-kerning:none" stroke="#000" stroke-width="0.45">0</text></g>
<g transform="translate(82.9,423.1) scale(0.82,1)"><text x="-11.79" y="0" font-size="10.6" font-weight="normal" style="font-kerning:none" stroke="#000" stroke-width="0.45"> 0</text><path d="M-7.84,0L-8.77,0L-8.77,-5.69C-9,-5.5 -9.29,-5.3 -9.66,-5.1C-10.02,-4.91 -10.35,-4.76 -10.64,-4.66L-10.64,-5.5C-10.12,-5.72 -9.66,-6 -9.27,-6.32C-8.88,-6.65 -8.6,-6.96 -8.43,-7.29L-7.84,-7.29Z" stroke="#000" stroke-width="0.45"/></g>
<g transform="translate(83,417.8) scale(0.95,1)"><path d="M3.73,0L2.85,0L2.85,-5.37C2.64,-5.19 2.36,-5 2.01,-4.81C1.67,-4.63 1.36,-4.49 1.08,-4.39L1.08,-5.19C1.58,-5.4 2.01,-5.66 2.38,-5.97C2.75,-6.27 3.01,-6.57 3.17,-6.88L3.73,-6.88Z" stroke="#000" stroke-width="0.45"/></g>
<g transform="translate(131.1,423.1) scale(0.82,1)"><text x="-11.79" y="0" font-size="10.6" font-weight="normal" style="font-kerning:none" stroke="#000" stroke-width="0.45"> 0</text><path d="M-7.84,0L-8.77,0L-8.77,-5.69C-9,-5.5 -9.29,-5.3 -9.66,-5.1C-10.02,-4.91 -10.35,-4.76 -10.64,-4.66L-10.64,-5.5C-10.12,-5.72 -9.66,-6 -9.27,-6.32C-8.88,-6.65 -8.6,-6.96 -8.43,-7.29L-7.84,-7.29Z" stroke="#000" stroke-width="0.45"/></g>
<g transform="translate(131.2,417.8) scale(0.95,1)"><text x="0" y="0" font-size="10.0" font-weight="normal" style="font-kerning:none" stroke="#000" stroke-width="0.45">2</text></g>
<g transform="translate(179.3,423.1) scale(0.82,1)"><text x="-11.79" y="0" font-size="10.6" font-weight="normal" style="font-kerning:none" stroke="#000" stroke-width="0.45"> 0</text><path d="M-7.84,0L-8.77,0L-8.77,-5.69C-9,-5.5 -9.29,-5.3 -9.66,-5.1C-10.02,-4.91 -10.35,-4.76 -10.64,-4.66L-10.64,-5.5C-10.12,-5.72 -9.66,-6 -9.27,-6.32C-8.88,-6.65 -8.6,-6.96 -8.43,-7.29L-7.84,-7.29Z" stroke="#000" stroke-width="0.45"/></g>
<g transform="translate(179.4,417.8) scale(0.95,1)"><text x="0" y="0" font-size="10.0" font-weight="normal" style="font-kerning:none" stroke="#000" stroke-width="0.45">3</text></g>
<g transform="translate(227.5,423.1) scale(0.82,1)"><text x="-11.79" y="0" font-size="10.6" font-weight="normal" style="font-kerning:none" stroke="#000" stroke-width="0.45"> 0</text><path d="M-7.84,0L-8.77,0L-8.77,-5.69C-9,-5.5 -9.29,-5.3 -9.66,-5.1C-10.02,-4.91 -10.35,-4.76 -10.64,-4.66L-10.64,-5.5C-10.12,-5.72 -9.66,-6 -9.27,-6.32C-8.88,-6.65 -8.6,-6.96 -8.43,-7.29L-7.84,-7.29Z" stroke="#000" stroke-width="0.45"/></g>
<g transform="translate(227.6,417.8) scale(0.95,1)"><text x="0" y="0" font-size="10.0" font-weight="normal" style="font-kerning:none" stroke="#000" stroke-width="0.45">4</text></g>
<g transform="translate(127.45,433.9) scale(0.9,1)"><text x="-9.83" y="0" font-size="10.8" font-weight="normal" style="font-kerning:none" letter-spacing="0.35" stroke="#000" stroke-width="0.45">FL </text><path d="M7.5,0L6.55,0L6.55,-5.8C6.32,-5.6 6.02,-5.4 5.65,-5.2C5.28,-5 4.94,-4.85 4.64,-4.75L4.64,-5.6C5.18,-5.83 5.64,-6.12 6.04,-6.44C6.44,-6.77 6.73,-7.09 6.9,-7.43L7.5,-7.43Z" stroke="#000" stroke-width="0.45"/></g>
<g transform="translate(307,404.6) rotate(-90) scale(0.95,1)"><text x="-2.89" y="0" font-size="10.4" font-weight="normal" style="font-kerning:none" stroke="#000" stroke-width="0.45">0</text></g>
<g transform="translate(307,380.8) rotate(-90) scale(0.95,1)"><text x="-2.89" y="0" font-size="10.4" font-weight="normal" style="font-kerning:none" stroke="#000" stroke-width="0.45">5</text></g>
<g transform="translate(307,357) rotate(-90) scale(0.95,1)"><text x="-5.78" y="0" font-size="10.4" font-weight="normal" style="font-kerning:none" stroke="#000" stroke-width="0.45"> 0</text><path d="M-1.91,0L-2.82,0L-2.82,-5.59C-3.04,-5.39 -3.33,-5.2 -3.69,-5.01C-4.05,-4.81 -4.37,-4.67 -4.66,-4.57L-4.66,-5.39C-4.14,-5.62 -3.7,-5.89 -3.31,-6.21C-2.93,-6.52 -2.65,-6.83 -2.49,-7.16L-1.91,-7.16Z" stroke="#000" stroke-width="0.45"/></g>
<g transform="translate(307,333.2) rotate(-90) scale(0.95,1)"><text x="-5.78" y="0" font-size="10.4" font-weight="normal" style="font-kerning:none" stroke="#000" stroke-width="0.45"> 5</text><path d="M-1.91,0L-2.82,0L-2.82,-5.59C-3.04,-5.39 -3.33,-5.2 -3.69,-5.01C-4.05,-4.81 -4.37,-4.67 -4.66,-4.57L-4.66,-5.39C-4.14,-5.62 -3.7,-5.89 -3.31,-6.21C-2.93,-6.52 -2.65,-6.83 -2.49,-7.16L-1.91,-7.16Z" stroke="#000" stroke-width="0.45"/></g>
<g transform="translate(307,309.4) rotate(-90) scale(0.95,1)"><text x="-5.78" y="0" font-size="10.4" font-weight="normal" style="font-kerning:none" stroke="#000" stroke-width="0.45">20</text></g>
<g transform="translate(307,285.6) rotate(-90) scale(0.95,1)"><text x="-5.78" y="0" font-size="10.4" font-weight="normal" style="font-kerning:none" stroke="#000" stroke-width="0.45">25</text></g>
<g transform="translate(307,261.8) rotate(-90) scale(0.95,1)"><text x="-5.78" y="0" font-size="10.4" font-weight="normal" style="font-kerning:none" stroke="#000" stroke-width="0.45">30</text></g>
<g transform="translate(296.5,336) rotate(-90) scale(1.02,1)"><text x="-16" y="0" font-size="10.1" font-weight="normal" style="font-kerning:none" stroke="#000" stroke-width="0.45">Counts</text></g>
<g transform="translate(319.2,421.5) scale(0.82,1)"><text x="-11.79" y="0" font-size="10.6" font-weight="normal" style="font-kerning:none" stroke="#000" stroke-width="0.45"> 0</text><path d="M-7.84,0L-8.77,0L-8.77,-5.69C-9,-5.5 -9.29,-5.3 -9.66,-5.1C-10.02,-4.91 -10.35,-4.76 -10.64,-4.66L-10.64,-5.5C-10.12,-5.72 -9.66,-6 -9.27,-6.32C-8.88,-6.65 -8.6,-6.96 -8.43,-7.29L-7.84,-7.29Z" stroke="#000" stroke-width="0.45"/></g>
<g transform="translate(319.3,416.2) scale(0.95,1)"><text x="0" y="0" font-size="10.0" font-weight="normal" style="font-kerning:none" stroke="#000" stroke-width="0.45">0</text></g>
<g transform="translate(367.6,421.5) scale(0.82,1)"><text x="-11.79" y="0" font-size="10.6" font-weight="normal" style="font-kerning:none" stroke="#000" stroke-width="0.45"> 0</text><path d="M-7.84,0L-8.77,0L-8.77,-5.69C-9,-5.5 -9.29,-5.3 -9.66,-5.1C-10.02,-4.91 -10.35,-4.76 -10.64,-4.66L-10.64,-5.5C-10.12,-5.72 -9.66,-6 -9.27,-6.32C-8.88,-6.65 -8.6,-6.96 -8.43,-7.29L-7.84,-7.29Z" stroke="#000" stroke-width="0.45"/></g>
<g transform="translate(367.7,416.2) scale(0.95,1)"><path d="M3.73,0L2.85,0L2.85,-5.37C2.64,-5.19 2.36,-5 2.01,-4.81C1.67,-4.63 1.36,-4.49 1.08,-4.39L1.08,-5.19C1.58,-5.4 2.01,-5.66 2.38,-5.97C2.75,-6.27 3.01,-6.57 3.17,-6.88L3.73,-6.88Z" stroke="#000" stroke-width="0.45"/></g>
<g transform="translate(416,421.5) scale(0.82,1)"><text x="-11.79" y="0" font-size="10.6" font-weight="normal" style="font-kerning:none" stroke="#000" stroke-width="0.45"> 0</text><path d="M-7.84,0L-8.77,0L-8.77,-5.69C-9,-5.5 -9.29,-5.3 -9.66,-5.1C-10.02,-4.91 -10.35,-4.76 -10.64,-4.66L-10.64,-5.5C-10.12,-5.72 -9.66,-6 -9.27,-6.32C-8.88,-6.65 -8.6,-6.96 -8.43,-7.29L-7.84,-7.29Z" stroke="#000" stroke-width="0.45"/></g>
<g transform="translate(416.1,416.2) scale(0.95,1)"><text x="0" y="0" font-size="10.0" font-weight="normal" style="font-kerning:none" stroke="#000" stroke-width="0.45">2</text></g>
<g transform="translate(464.4,421.5) scale(0.82,1)"><text x="-11.79" y="0" font-size="10.6" font-weight="normal" style="font-kerning:none" stroke="#000" stroke-width="0.45"> 0</text><path d="M-7.84,0L-8.77,0L-8.77,-5.69C-9,-5.5 -9.29,-5.3 -9.66,-5.1C-10.02,-4.91 -10.35,-4.76 -10.64,-4.66L-10.64,-5.5C-10.12,-5.72 -9.66,-6 -9.27,-6.32C-8.88,-6.65 -8.6,-6.96 -8.43,-7.29L-7.84,-7.29Z" stroke="#000" stroke-width="0.45"/></g>
<g transform="translate(464.5,416.2) scale(0.95,1)"><text x="0" y="0" font-size="10.0" font-weight="normal" style="font-kerning:none" stroke="#000" stroke-width="0.45">3</text></g>
<g transform="translate(512.8,421.5) scale(0.82,1)"><text x="-11.79" y="0" font-size="10.6" font-weight="normal" style="font-kerning:none" stroke="#000" stroke-width="0.45"> 0</text><path d="M-7.84,0L-8.77,0L-8.77,-5.69C-9,-5.5 -9.29,-5.3 -9.66,-5.1C-10.02,-4.91 -10.35,-4.76 -10.64,-4.66L-10.64,-5.5C-10.12,-5.72 -9.66,-6 -9.27,-6.32C-8.88,-6.65 -8.6,-6.96 -8.43,-7.29L-7.84,-7.29Z" stroke="#000" stroke-width="0.45"/></g>
<g transform="translate(512.9,416.2) scale(0.95,1)"><text x="0" y="0" font-size="10.0" font-weight="normal" style="font-kerning:none" stroke="#000" stroke-width="0.45">4</text></g>
<g transform="translate(412.6,432.3) scale(0.9,1)"><text x="-9.83" y="0" font-size="10.8" font-weight="normal" style="font-kerning:none" letter-spacing="0.35" stroke="#000" stroke-width="0.45">FL </text><path d="M7.5,0L6.55,0L6.55,-5.8C6.32,-5.6 6.02,-5.4 5.65,-5.2C5.28,-5 4.94,-4.85 4.64,-4.75L4.64,-5.6C5.18,-5.83 5.64,-6.12 6.04,-6.44C6.44,-6.77 6.73,-7.09 6.9,-7.43L7.5,-7.43Z" stroke="#000" stroke-width="0.45"/></g>
<polyline points="31.5,172 33,171 35,170.6 37,170.4 40,171.2 43.4,169.8 46,167.2 48.5,165.8 51,164.5 53.4,163 56,161.8 58,161.5 60,162.5 63.4,164.5 66,167 68,169.5 70,171.8 72.6,174 76,175 79,175.3 82,174.8 85,173.5 88,171.5 90.5,169 92.6,166.5 94.5,163 96.5,158 98,152 99.5,145 101,135 101.6,130 102.4,123.6 104,112 105,100 105.9,93.6 107.9,88.8 109.8,83.9 111.8,79 113.6,74.3 117,64.6 118,55 119.8,48 121,42.9 122.5,39 124.3,36 125.5,35.2 126.2,37 125.9,45 125.7,55 125.7,61.8 126.7,74.3 127.6,83.9 128.1,93.6 128.6,100 130.1,104.8 131,108.5 131.8,117 132.7,125.6 133.5,134 134.4,142.7 137,147 138.7,151 140.4,155 142.1,159.8 144.7,164 147.2,168.4 150.6,172.7 155.8,176 162,177.5 170,177.9 180,178.1" fill="none" stroke="#000" stroke-width="1.7" stroke-linejoin="round" stroke-dasharray="1.8 2.6" />
<polyline points="30.6,178.5 31.2,161.8 31.8,170 32.6,176 35.7,176.2 39.5,174.2 43.4,172.2 47.2,168.5 51,166.2 54.2,164.6 57.2,164.1 58.6,161.8 59.2,164.4 60.3,165.8 64.2,167 67.2,169 70,172 72.6,175 76,176.3 78.8,176.4 81,175.9 83.4,175.4 86,174.5 89.5,173 92,171.5 94,170.8 95.5,170 97.5,167 99.5,163.5 100.8,158 101.8,153 102.6,147 103.6,140 104,135 104.1,130 104.3,123.6 105.5,117 106.2,110.7 107,104.8 108.1,100 109.5,93.6 111.7,88.8 114.6,83.9 116.5,79.1 118.2,74.3 121.3,64.6 123.2,55 123.8,47.3 124.5,40 126.2,34.3 127.2,38.7 128.2,47.3 130,55 131,64.6 131.6,74.3 132.2,83.9 132.8,93.6 133.5,100 135.3,108.5 137,117 138.7,125.6 140.4,134 142.1,142.7 143.8,151 145.5,159.8 147.2,164 150.6,168.4 155,172.7 159.2,176 164.3,177.6 170,177.9 180,178.2 200,178.3 215,178.2 220.5,178 221.5,173 222.5,171.5 223.5,178.3" fill="none" stroke="#000" stroke-width="2.5" stroke-linejoin="round" />
<polyline points="103.3,123.6 104.5,117 105.2,110.7 106,104.8 107.1,100 108.5,93.6 110.7,88.8 113.6,83.9 115.5,79.1 117.2,74.3 120.3,64.6 122.2,55 122.8,47.3 123.5,40 125.2,34.3" fill="none" stroke="#000" stroke-width="2.0" stroke-linejoin="round" />
<polyline points="317,173.5 319,174 321,173 324.3,171.5 327,169.5 330.5,167.8 333.5,165.8 336.6,164 339,162.3 342,161 344.5,160.5 347,160.2 349,162.5 351,165.8 353,169 355,171.8 358,174 361,174.8 364.3,174.6 367,174.5 370,174 371.1,172.6 375,169.1 377.6,165.7 378.9,160.6 380.1,155.4 382.3,150.3 384,146 385.7,141.7 386.3,135 386.8,131 387.9,123.6 389.1,110.7 390.4,97.9 392.4,86 394.3,81.4 396.2,75 399,70.5 400.7,68.6 401.3,62 402.6,55.7 405.2,50.6 406.5,42.9 407.5,35.5 408.2,42.9 408.7,50 409.5,56 410.3,62 411,68 411.6,75 412.3,86 413.6,97.9 415.5,110.7 416.8,123.6 418,135 418.7,140 420.7,143.7 424,152.3 428.4,161 433.6,167.9 439.7,173 445.7,176 452.7,177.8 462,178.2" fill="none" stroke="#000" stroke-width="1.7" stroke-linejoin="round" stroke-dasharray="1.8 2.6" />
<polyline points="316,178.3 316.2,167 317,171.5 318.9,175.4 321,174.5 324.3,173 327,171 330,169.2 333.8,167.3 337.7,165 341.5,162.7 343.5,163 345.4,164 346.5,162 346.9,160.4 347.4,163 349.2,165.4 351.5,168 353.1,170.4 355.4,173.5 358.5,176.2 361.5,176.5 364.6,175 368.5,175.4 370.5,174.6 373.5,175 376.6,175.4 380,174.6 382.3,172.6 385.3,169.1 388.7,164 390.2,160 391.3,157.1 392.6,152 393.4,148.6 394.3,141.7 396.2,135 397,125 397.5,120 398.5,115 399.3,110 400,100 401,95 401.5,90 402.6,81.4 404.6,73.4 406,70 408,66 410.3,63 409.5,60 407,58 408,54.5 411.2,53 412,49.3 412.8,45 413.5,39.6 414.8,34 415.7,39.6 417.3,42 418.1,47.4 419.6,53 420.6,58 421.5,63.8 422.3,70 422.8,81.4 423.5,88 425.1,97.9 426.4,110.7 427.7,123.6 429,128 430.5,133 432,137 434,142 435.6,145 438,152.3 440.6,161 444,167.9 448.3,173 452.7,176 459.6,178 470,178.3 490,178.2 505,178.2 506.2,175 507,173.8 508,178.4" fill="none" stroke="#000" stroke-width="2.5" stroke-linejoin="round" />
<polyline points="379,174.6 381.3,172.6 384.3,169.1 387.7,164 389.2,160 390.3,157.1 391.6,152 392.4,148.6 393.3,141.7" fill="none" stroke="#000" stroke-width="2.0" stroke-linejoin="round" />
<polyline points="400.5,90 401.6,81.4 403.6,73.4 405,70" fill="none" stroke="#000" stroke-width="2.0" stroke-linejoin="round" />
<path d="M79.4,385L83.8,388.4M79.4,389.1L83.8,392.5M79.4,393.2L83.8,396.6M79.4,397.3L83.8,400.7M79.4,401.4L83.8,404.8" stroke="#000" stroke-width="2.0" fill="none" stroke-linecap="round"/>
<path d="M95.6,385L98.8,388.4M95.6,389.1L98.8,392.5M95.6,393.2L98.8,396.6M95.6,397.3L98.8,400.7M95.6,401.4L98.8,404.8" stroke="#000" stroke-width="2.0" fill="none" stroke-linecap="round"/>
<path d="M100.2,385L103.4,388.4M100.2,389.1L103.4,392.5M100.2,393.2L103.4,396.6M100.2,397.3L103.4,400.7M100.2,401.4L103.4,404.8" stroke="#000" stroke-width="2.0" fill="none" stroke-linecap="round"/>
<path d="M104.8,385L108.6,388.4M104.8,389.1L108.6,392.5M104.8,393.2L108.6,396.6M104.8,397.3L108.6,400.7M104.8,401.4L108.6,404.8" stroke="#000" stroke-width="2.0" fill="none" stroke-linecap="round"/>
<path d="M109.65,388.5L109.65,390.9M109.65,392.6L109.65,395M109.65,396.7L109.65,399.1M109.65,400.8L109.65,403.2" stroke="#000" stroke-width="2.0" fill="none" stroke-linecap="round"/>
<path d="M112.9,366L115.6,369.02M112.9,370.1L115.6,373.12M112.9,374.2L115.6,377.23M112.9,378.3L115.6,381.33M112.9,382.4L115.6,385.43M112.9,386.5L115.6,389.53" stroke="#000" stroke-width="2.0" fill="none" stroke-linecap="round"/>
<path d="M116.4,349L119.2,352.1M116.4,353.1L119.2,356.2M116.4,357.2L119.2,360.3M116.4,361.3L119.2,364.4M116.4,365.4L119.2,368.5M116.4,369.5L119.2,372.6M116.4,373.6L119.2,376.7" stroke="#000" stroke-width="2.0" fill="none" stroke-linecap="round"/>
<path d="M118.6,323.9L117.45,325.19L118.6,326.47M118.6,328L117.45,329.29L118.6,330.57M118.6,332.1L117.45,333.39L118.6,334.68M118.6,336.2L117.45,337.49L118.6,338.78M118.6,340.3L117.45,341.59L118.6,342.88M118.6,344.4L117.45,345.69L118.6,346.98" stroke="#000" stroke-width="2.0" fill="none" stroke-linecap="round"/>
<path d="M119.3,301.3L123.8,304.7M119.3,305.4L123.8,308.8M119.3,309.5L123.8,312.9M119.3,313.6L123.8,317M119.3,317.7L123.8,321.1M119.3,321.8L123.8,325.2M119.3,325.9L123.8,329.3M119.3,330L123.8,333.4M119.3,334.1L123.8,337.5M119.3,338.2L123.8,341.6M119.3,342.3L123.8,345.7M119.3,346.4L123.8,349.8M119.3,350.5L123.8,353.9" stroke="#000" stroke-width="2.0" fill="none" stroke-linecap="round"/>
<path d="M127.3,301.7L127.3,304.1M127.3,305.8L127.3,308.2M127.3,309.9L127.3,312.3M127.3,314L127.3,316.4M127.3,318.1L127.3,320.5M127.3,322.2L127.3,324.6M127.3,326.3L127.3,328.7M127.3,330.4L127.3,332.8M127.3,334.5L127.3,336.9M127.3,338.6L127.3,341" stroke="#000" stroke-width="2.0" fill="none" stroke-linecap="round"/>
<path d="M130,265.55L132.6,262.6M130,269.65L132.6,266.7M130,273.75L132.6,270.8M130,277.85L132.6,274.9M130,281.95L132.6,279" stroke="#000" stroke-width="2.0" fill="none" stroke-linecap="round"/>
<path d="M131.05,282.6L131.05,285M131.05,286.7L131.05,289.1M131.05,290.8L131.05,293.2M131.05,294.9L131.05,297.3" stroke="#000" stroke-width="2.0" fill="none" stroke-linecap="round"/>
<path d="M139.7,265.25L141.9,262.6M139.7,269.35L141.9,266.7" stroke="#000" stroke-width="2.0" fill="none" stroke-linecap="round"/>
<path d="M140.35,296.7L140.35,299.1M140.35,300.8L140.35,303.2M140.35,304.9L140.35,307.3M140.35,309L140.35,311.4M140.35,313.1L140.35,315.5M140.35,317.2L140.35,319.6" stroke="#000" stroke-width="2.0" fill="none" stroke-linecap="round"/>
<path d="M133.2,319L138.2,322.4M133.2,323.1L138.2,326.5M133.2,327.2L138.2,330.6M133.2,331.3L138.2,334.7M133.2,335.4L138.2,338.8M133.2,339.5L138.2,342.9M133.2,343.6L138.2,347M133.2,347.7L138.2,351.1M133.2,351.8L138.2,355.2M133.2,355.9L138.2,359.3" stroke="#000" stroke-width="2.0" fill="none" stroke-linecap="round"/>
<path d="M145.05,322.4L145.05,324.8M145.05,326.5L145.05,328.9M145.05,330.6L145.05,333M145.05,334.7L145.05,337.1M145.05,338.8L145.05,341.2" stroke="#000" stroke-width="2.0" fill="none" stroke-linecap="round"/>
<path d="M145.9,345.8L149.3,342.4M145.9,349.9L149.3,346.5M145.9,354L149.3,350.6M145.9,358.1L149.3,354.7M145.9,362.2L149.3,358.8M145.9,366.3L149.3,362.9M145.9,370.4L149.3,367M145.9,374.5L149.3,371.1M145.9,378.6L149.3,375.2M145.9,382.7L149.3,379.3" stroke="#000" stroke-width="2.0" fill="none" stroke-linecap="round"/>
<path d="M149.8,366.65L151.6,364.3M149.8,370.75L151.6,368.4M149.8,374.85L151.6,372.5M149.8,378.95L151.6,376.6M149.8,383.05L151.6,380.7M149.8,387.15L151.6,384.8" stroke="#000" stroke-width="2.0" fill="none" stroke-linecap="round"/>
<path d="M155.8,388L159,391.4M155.8,392.1L159,395.5M155.8,396.2L159,399.6M155.8,400.3L159,403.7" stroke="#000" stroke-width="2.0" fill="none" stroke-linecap="round"/>
<rect x="130.3" y="299" width="6.4" height="18.2" fill="#000"/>
<rect x="134.2" y="283.4" width="7.4" height="16.1" fill="#000"/>
<rect x="137.4" y="271" width="5.6" height="10" fill="#000"/>
<rect x="137.4" y="280" width="4.4" height="19.5" fill="#000"/>
<rect x="145.7" y="266.4" width="2.6" height="15" fill="#000"/>
<rect x="146.6" y="281" width="2.8" height="11.5" fill="#000"/>
<rect x="108.4" y="396.5" width="4.6" height="9.1" fill="#000"/>
<rect x="74.5" y="399" width="4.1" height="6.6" fill="#000"/>
<rect x="86.6" y="399" width="3.8" height="6.6" fill="#000"/>
<rect x="169.8" y="399" width="2" height="6.6" fill="#000"/>
<rect x="177.6" y="399" width="2" height="6.6" fill="#000"/>
<rect x="214" y="399" width="4" height="6.6" fill="#000"/>
<rect x="161.2" y="393" width="6.2" height="12.6" fill="#000"/>
<polyline points="31.5,405.6 74.5,405.6 74.5,399.6 78.6,399.6 78.6,405.6 86.6,405.6 86.6,399.6 90.4,399.6 90.4,405.6 108.4,405.6 108.4,396.5 112,396.5 112,392 114.5,392 114.5,386.8 117,386.8 117,380.4 119.4,380.4 119.4,372 121,372 121,364 122.6,364 122.6,356 124.2,356 124.2,348 126.7,348 126.7,340 128.6,340 128.6,330 130.8,330 130.8,316" fill="none" stroke="#000" stroke-width="2.3" stroke-linejoin="round" stroke-linejoin="miter"/>
<polyline points="110.5,396 113.5,390 116,385 118.3,378 120.2,370 122,362 123.6,355 125.6,347 127.6,339 129.6,329 131,318" fill="none" stroke="#000" stroke-width="1.6" stroke-linejoin="round" />
<line x1="143.95" y1="262" x2="143.95" y2="295" stroke="#000" stroke-width="1.7" />
<polyline points="143.2,262 144.6,262" fill="none" stroke="#000" stroke-width="1.5" stroke-linejoin="round" stroke-linejoin="miter"/>
<polyline points="145.7,266.4 148.3,266.4 149,281.4 150.4,292.5 151,306 152.5,319 154.2,330 155.5,340 156.2,351 157.8,367 159.4,383 161,391 161.2,393.7 167.4,393.7 167.4,405.6 169.8,405.6 169.8,399.6 171.8,399.6 171.8,405.6 177.6,405.6 177.6,399.6 179.6,399.6 179.6,405.6 214,405.6 214,399.6 218,399.6 218,405.6 225,405.6" fill="none" stroke="#000" stroke-width="2.3" stroke-linejoin="round" stroke-linejoin="miter"/>
<line x1="145.6" y1="280" x2="145.6" y2="297" stroke="#000" stroke-width="1.2" />
<path d="M364.2,386.4L368.8,383M364.2,390.5L368.8,387.1M364.2,394.6L368.8,391.2M364.2,398.7L368.8,395.3M364.2,402.8L368.8,399.4" stroke="#000" stroke-width="2.0" fill="none" stroke-linecap="round"/>
<path d="M384.3,383L381.9,384.7L384.3,386.4M384.3,387.1L381.9,388.8L384.3,390.5M384.3,391.2L381.9,392.9L384.3,394.6M384.3,395.3L381.9,397L384.3,398.7M384.3,399.4L381.9,401.1L384.3,402.8" stroke="#000" stroke-width="2.0" fill="none" stroke-linecap="round"/>
<path d="M386.3,386.8L392.4,383.4M386.3,390.9L392.4,387.5M386.3,395L392.4,391.6M386.3,399.1L392.4,395.7M386.3,403.2L392.4,399.8" stroke="#000" stroke-width="2.0" fill="none" stroke-linecap="round"/>
<path d="M396.45,383.4L396.45,385.8M396.45,387.5L396.45,389.9M396.45,391.6L396.45,394M396.45,395.7L396.45,398.1" stroke="#000" stroke-width="2.0" fill="none" stroke-linecap="round"/>
<path d="M397.8,365.7L401.4,362.3M397.8,369.8L401.4,366.4M397.8,373.9L401.4,370.5M397.8,378L401.4,374.6M397.8,382.1L401.4,378.7" stroke="#000" stroke-width="2.0" fill="none" stroke-linecap="round"/>
<path d="M402.4,342.6L402.4,345M402.4,346.7L402.4,349.1M402.4,350.8L402.4,353.2M402.4,354.9L402.4,357.3M402.4,359L402.4,361.4" stroke="#000" stroke-width="2.0" fill="none" stroke-linecap="round"/>
<path d="M400.7,323.45L402.9,320.8M400.7,327.55L402.9,324.9M400.7,331.65L402.9,329M400.7,335.75L402.9,333.1M400.7,339.85L402.9,337.2" stroke="#000" stroke-width="2.0" fill="none" stroke-linecap="round"/>
<path d="M403.7,304.4L407.4,301M403.7,308.5L407.4,305.1M403.7,312.6L407.4,309.2M403.7,316.7L407.4,313.3M403.7,320.8L407.4,317.4M403.7,324.9L407.4,321.5M403.7,329L407.4,325.6M403.7,333.1L407.4,329.7M403.7,337.2L407.4,333.8M403.7,341.3L407.4,337.9" stroke="#000" stroke-width="2.0" fill="none" stroke-linecap="round"/>
<path d="M410.1,304.65L412.3,302M410.1,308.75L412.3,306.1M410.1,312.85L412.3,310.2M410.1,316.95L412.3,314.3" stroke="#000" stroke-width="2.0" fill="none" stroke-linecap="round"/>
<path d="M411.1,319L411.1,321.4M411.1,323.1L411.1,325.5M411.1,327.2L411.1,329.6M411.1,331.3L411.1,333.7M411.1,335.4L411.1,337.8M411.1,339.5L411.1,341.9" stroke="#000" stroke-width="2.0" fill="none" stroke-linecap="round"/>
<path d="M415,265.05L416.4,263M415,269.15L416.4,267.1M415,273.25L416.4,271.2M415,277.35L416.4,275.3" stroke="#000" stroke-width="2.0" fill="none" stroke-linecap="round"/>
<path d="M415.5,279.4L415.5,281.8M415.5,283.5L415.5,285.9M415.5,287.6L415.5,290M415.5,291.7L415.5,294.1M415.5,295.8L415.5,298.2M415.5,299.9L415.5,302.3M415.5,304L415.5,306.4M415.5,308.1L415.5,310.5M415.5,312.2L415.5,314.6M415.5,316.3L415.5,318.7" stroke="#000" stroke-width="2.0" fill="none" stroke-linecap="round"/>
<path d="M419.4,282L421.3,284.43M419.4,286.1L421.3,288.53M419.4,290.2L421.3,292.63M419.4,294.3L421.3,296.73M419.4,298.4L421.3,300.83M419.4,302.5L421.3,304.93M419.4,306.6L421.3,309.03M419.4,310.7L421.3,313.13M419.4,314.8L421.3,317.23" stroke="#000" stroke-width="2.0" fill="none" stroke-linecap="round"/>
<path d="M417.8,321.7L423,325.1M417.8,325.8L423,329.2M417.8,329.9L423,333.3M417.8,334L423,337.4M417.8,338.1L423,341.5M417.8,342.2L423,345.6M417.8,346.3L423,349.7M417.8,350.4L423,353.8M417.8,354.5L423,357.9M417.8,358.6L423,362" stroke="#000" stroke-width="2.0" fill="none" stroke-linecap="round"/>
<path d="M424.1,265.35L425.9,263M424.1,269.45L425.9,267.1M424.1,273.55L425.9,271.2M424.1,277.65L425.9,275.3M424.1,281.75L425.9,279.4M424.1,285.85L425.9,283.5M424.1,289.95L425.9,287.6M424.1,294.05L425.9,291.7" stroke="#000" stroke-width="2.0" fill="none" stroke-linecap="round"/>
<path d="M424.9,296L424.9,298.4M424.9,300.1L424.9,302.5M424.9,304.2L424.9,306.6M424.9,308.3L424.9,310.7M424.9,312.4L424.9,314.8M424.9,316.5L424.9,318.9" stroke="#000" stroke-width="2.0" fill="none" stroke-linecap="round"/>
<path d="M427.7,324.35L429.9,321.7M427.7,328.45L429.9,325.8M427.7,332.55L429.9,329.9" stroke="#000" stroke-width="2.0" fill="none" stroke-linecap="round"/>
<path d="M431.3,345L431.3,347.4M431.3,349.1L431.3,351.5M431.3,353.2L431.3,355.6M431.3,357.3L431.3,359.7M431.3,361.4L431.3,363.8M431.3,365.5L431.3,367.9M431.3,369.6L431.3,372M431.3,373.7L431.3,376.1M431.3,377.8L431.3,380.2" stroke="#000" stroke-width="2.0" fill="none" stroke-linecap="round"/>
<path d="M434.1,362.3L436,364.73M434.1,366.4L436,368.83M434.1,370.5L436,372.93M434.1,374.6L436,377.03M434.1,378.7L436,381.13" stroke="#000" stroke-width="2.0" fill="none" stroke-linecap="round"/>
<path d="M441.4,385.5L444.2,382.4M441.4,389.6L444.2,386.5M441.4,393.7L444.2,390.6M441.4,397.8L444.2,394.7M441.4,401.9L444.2,398.8" stroke="#000" stroke-width="2.0" fill="none" stroke-linecap="round"/>
<rect x="436.5" y="261" width="4.5" height="11.7" fill="#000"/>
<rect x="385" y="398.8" width="26" height="5.8" fill="#000"/>
<rect x="411" y="390.8" width="3" height="13.8" fill="#000"/>
<rect x="418" y="384.7" width="2.5" height="15.6" fill="#000"/>
<rect x="431.4" y="298" width="3.6" height="21.7" fill="#000"/>
<rect x="495.2" y="401.6" width="7.8" height="3" fill="#000"/>
<rect x="349.8" y="398.6" width="3.2" height="5.8" fill="#000"/>
<rect x="357" y="398.6" width="2.4" height="5.8" fill="#000"/>
<rect x="367.6" y="398.6" width="5.4" height="5.8" fill="#000"/>
<rect x="377.6" y="398.6" width="2.6" height="5.8" fill="#000"/>
<rect x="496.6" y="398.6" width="1.8" height="5.8" fill="#000"/>
<rect x="499.4" y="398.6" width="2" height="5.8" fill="#000"/>
<polyline points="411,391 419.6,391 419.6,384.7 421.6,384.7 421.6,379.5 423.6,379.5 423.6,372.6 424.8,372 425.5,364 426.8,358 428.1,351 430,342.6 431.2,330 432.2,320.8 432.6,302.9 433.2,288.8 435,288.8 435,283.6 437.1,283.6 437.1,272.7" fill="none" stroke="#000" stroke-width="2.4" stroke-linejoin="round" stroke-linejoin="miter"/>
<polyline points="440.6,272.7 440.6,283.6 442.3,283.6 442.3,296.5 444.2,296.5 444.2,305.4 445.6,305.4 446.2,318 447.2,325 447.6,334 448.4,340 449.2,355 451.5,370 453.7,385 456,392.4 458.5,394 460.5,400 462,404.4 509,404.4" fill="none" stroke="#000" stroke-width="2.3" stroke-linejoin="round" stroke-linejoin="miter"/>
<text x="37.6" y="17.6" font-size="19.8" font-weight="bold">A</text>
<text x="38.6" y="247.8" font-size="19.8" font-weight="bold">B</text>
<g transform="translate(94.9,464)"><text x="0" y="0" font-size="19.8" font-weight="bold" style="font-kerning:none" >Notch  </text><path d="M69.75,0L67.04,0L67.04,-9.84C66.04,-8.95 64.87,-8.3 63.53,-7.87L63.53,-10.23C64.23,-10.45 65.01,-10.87 65.84,-11.49C66.67,-12.1 67.24,-12.82 67.55,-13.62L69.75,-13.62Z" /></g>
<text x="377.7" y="464.2" font-size="19.8" font-weight="bold">Notch 2</text>
</svg>
</body></html>
